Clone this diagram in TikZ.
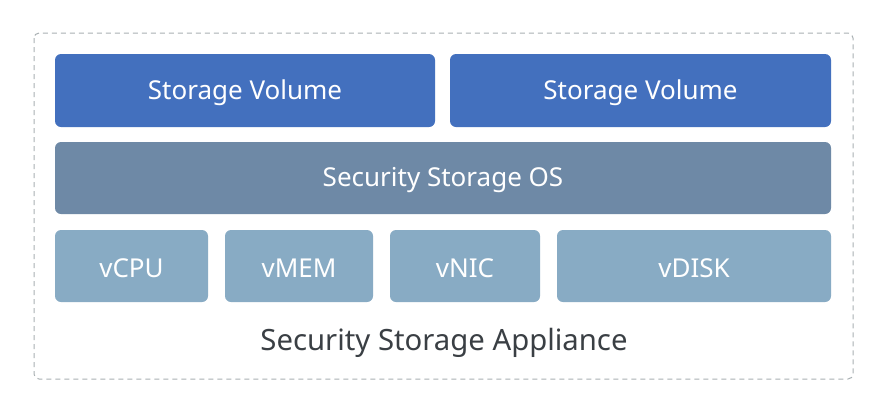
\documentclass[tikz,border=0pt]{standalone}
\usepackage{fontspec}
\setmainfont{Noto Sans}
\begin{document}
\begin{tikzpicture}[x=1pt,y=-1pt,
  blk/.style={rounded corners=6pt, inner sep=0pt, text=white, font=\fontsize{26}{30}\selectfont},
  vol/.style={blk, fill=volc},
  os/.style={blk, fill=osc},
  hw/.style={blk, fill=hwc},
  lbl/.style={yshift=-2pt}]
\definecolor{volc}{HTML}{4370BE}
\definecolor{osc}{HTML}{6E89A6}
\definecolor{hwc}{HTML}{88ABC4}
\definecolor{dashc}{HTML}{A9B0B3}
\definecolor{txtc}{HTML}{3A3F44}
\useasboundingbox (0,0) rectangle (886,413);
\fill[white] (0,0) rectangle (886,413);
\draw[dashc, dashed, line width=1pt, rounded corners=5pt, dash pattern=on 5pt off 4pt] (34,33) rectangle (853,379);
\path[vol] (55,54) rectangle node[lbl] (sv1) {Storage Volume} (435,127);
\path[vol] (450,54) rectangle node[lbl] (sv2) {Storage Volume} (831,127);
\path[os] (55,142) rectangle node[lbl] (os) {Security Storage OS} (831,214);
\path[hw] (55,230) rectangle node[lbl] (cpu) {vCPU} (208,302);
\path[hw] (225,230) rectangle node[lbl] (mem) {vMEM} (373,302);
\path[hw] (390,230) rectangle node[lbl] (nic) {vNIC} (540,302);
\path[hw] (557,230) rectangle node[lbl] (disk) {vDISK} (831,302);
\node[text=txtc, font=\fontsize{29.3}{34}\selectfont] (app) at (444,343) {Security Storage Appliance};
\end{tikzpicture}
\end{document}
